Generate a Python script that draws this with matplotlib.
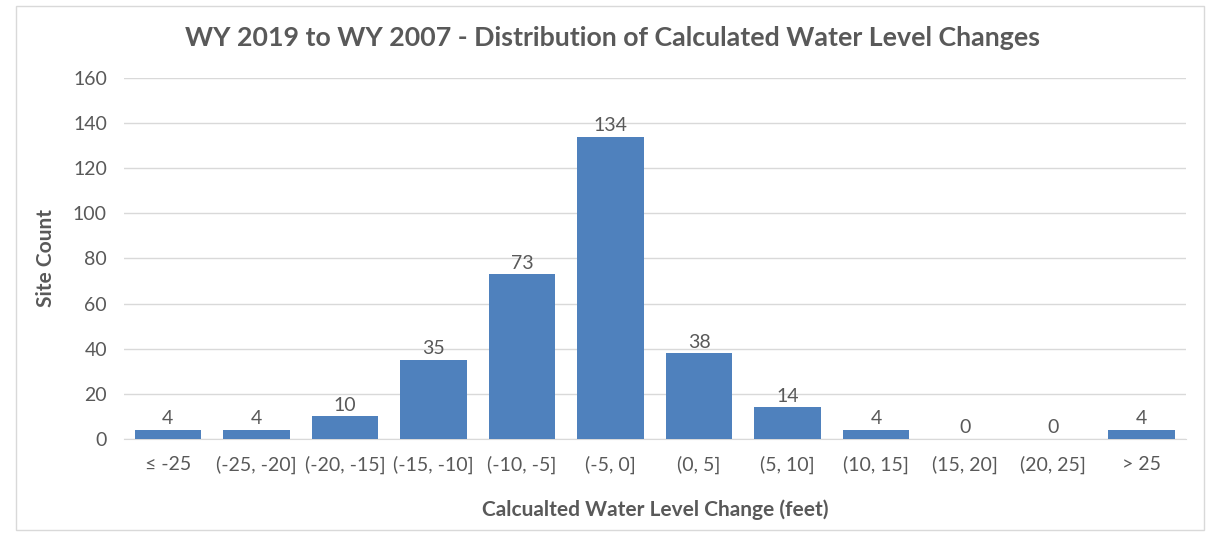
import numpy as np
import matplotlib.pyplot as plt

# Datos
categorias = ['≤ -25', '(-25, -20]', '(-20, -15]', '(-15, -10]', '(-10, -5]', '(-5, 0]',
              '(0, 5]', '(5, 10]', '(10, 15]', '(15, 20]', '(20, 25]', '> 25']
conteos = [4, 4, 10, 35, 73, 134, 38, 14, 4, 0, 0, 4]
yticks = [0, 20, 40, 60, 80, 100, 120, 140, 160]

gris = '#595959'
plt.rcParams['font.family'] = ['Lato', 'DejaVu Sans']

fig = plt.figure(figsize=(12.12, 5.34), dpi=100)
ax = fig.add_axes([0.102, 0.178, 0.8765, 0.676])

x = np.arange(len(categorias))
ax.bar(x, conteos, width=0.75, color='#4F81BD', zorder=3)

# Etiquetas de datos sobre las barras
for xi, v in zip(x, conteos):
    ax.text(xi, v + 1.2, str(v), ha='center', va='bottom', fontsize=14, color=gris)

ax.set_xlim(-0.5, len(categorias) - 0.5)
ax.set_ylim(0, 160)
ax.set_yticks(yticks)
ax.set_xticks(x)
ax.set_xticklabels(categorias)
ax.tick_params(axis='both', length=0, labelsize=14, colors=gris)
ax.tick_params(axis='x', pad=12)
ax.tick_params(axis='y', pad=12)
ax.grid(axis='y', color='#D9D9D9', linewidth=1, zorder=0)
for s in ['top', 'right', 'left']:
    ax.spines[s].set_visible(False)
ax.spines['bottom'].set_color('#D9D9D9')

ax.set_xlabel('Calcualted Water Level Change (feet)', fontsize=15, fontweight='bold',
              color=gris, labelpad=18)
ax.set_ylabel('Site Count', fontsize=15, fontweight='bold', color=gris, labelpad=12)

fig.text(0.505, 0.928, 'WY 2019 to WY 2007 - Distribution of Calculated Water Level Changes',
         ha='center', va='center', fontsize=19.3, fontweight='bold', color=gris)

# Borde exterior del gráfico
borde = plt.Rectangle((0.013, 0.008), 0.98, 0.98, transform=fig.transFigure,
                      fill=False, edgecolor='#D9D9D9', linewidth=1)
fig.patches.append(borde)

fig.savefig('out.png', dpi=100)
